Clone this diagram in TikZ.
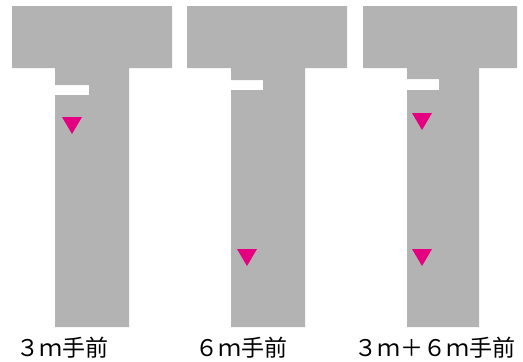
\documentclass[tikz,border=0pt]{standalone}
\usepackage{fontspec}
\newfontfamily\jpfont{Noto Sans CJK JP}
\definecolor{roadgray}{HTML}{B3B3B3}
\definecolor{markpink}{HTML}{E4007F}
\tikzset{
  road/.style={fill=roadgray, draw=none},
  marker/.style={fill=markpink, draw=none},
  caption/.style={font=\jpfont\fontsize{23}{23}\selectfont, inner sep=0pt, anchor=base west}
}
\begin{document}
\begin{tikzpicture}[x=1pt,y=-1pt]
\useasboundingbox (0,0) rectangle (523,362);
% panel 1
\fill[road] (12,6) -- (172,6) -- (172,68) -- (129,68) -- (129,327) -- (55,327) -- (55,95) -- (89,95) -- (89,85) -- (55,85) -- (55,68) -- (12,68) -- cycle;
\fill[marker] (62,117) -- (82,117) -- (72,134) -- cycle;
\node[caption] (c1) at (16,356) {３ｍ手前};
% panel 2
\fill[road] (187,6) -- (347,6) -- (347,68) -- (305,68) -- (305,327) -- (231,327) -- (231,90) -- (263,90) -- (263,80) -- (231,80) -- (231,68) -- (187,68) -- cycle;
\fill[marker] (237,249) -- (257,249) -- (247,266) -- cycle;
\node[caption] (c2) at (195,356) {６ｍ手前};
% panel 3
\fill[road] (363,6) -- (517,6) -- (517,68) -- (479,68) -- (479,327) -- (407,327) -- (407,90) -- (439,90) -- (439,79) -- (407,79) -- (407,68) -- (363,68) -- cycle;
\fill[marker] (412,113) -- (432,113) -- (422,130) -- cycle;
\fill[marker] (412,249) -- (432,249) -- (422,266) -- cycle;
\node[caption] (c3) at (354,356) {３ｍ＋６ｍ手前};
\end{tikzpicture}
\end{document}
